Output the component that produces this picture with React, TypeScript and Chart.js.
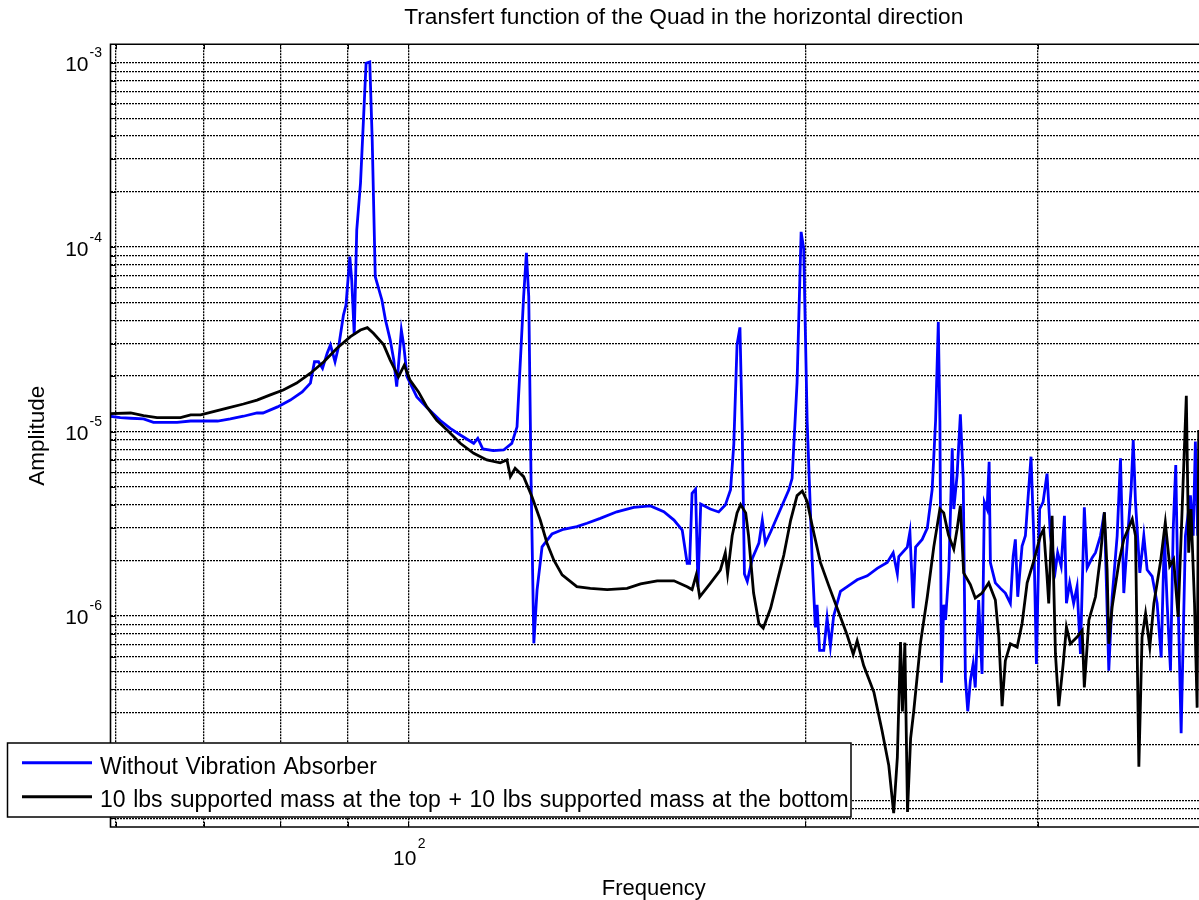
import React, { useEffect, useRef } from "react";
import { Chart, registerables } from "chart.js";

Chart.register(...registerables);

const FONT = '"Liberation Sans", Arial, Helvetica, sans-serif';

const titleText = "Transfert function of the Quad in the horizontal direction";
const xAxisTitle = "Frequency";
const yAxisTitle = "Amplitude";
const seriesNames = [
  "Without Vibration Absorber",
  "10 lbs supported mass at the top + 10 lbs supported mass at the bottom",
];
const seriesColors = ["#0000ff", "#000000"];

const xRange = [59.47, 397.5];
const yRange = [7.165e-8, 1.2585e-3];
const xGridValues = [60, 70, 80, 90, 100, 200, 300];
const yGridValues = [
  8e-8, 9e-8,
  1e-7, 2e-7, 3e-7, 4e-7, 5e-7, 6e-7, 7e-7, 8e-7, 9e-7,
  1e-6, 2e-6, 3e-6, 4e-6, 5e-6, 6e-6, 7e-6, 8e-6, 9e-6,
  1e-5, 2e-5, 3e-5, 4e-5, 5e-5, 6e-5, 7e-5, 8e-5, 9e-5,
  1e-4, 2e-4, 3e-4, 4e-4, 5e-4, 6e-4, 7e-4, 8e-4, 9e-4,
  1e-3,
];
const yLabelExponents = [-3, -4, -5, -6, -7];
const xLabelExponents = [2];

// Without Vibration Absorber
const blueFreq = [
  59.4, 60.5, 61.6, 63.0, 64.1, 66.8, 68.4, 69.9, 71.7, 73.3,
  75.0, 76.8, 77.6, 79.6, 81.4, 83.1, 84.3, 84.9, 85.5, 86.1,
  86.8, 87.3, 88.0, 88.6, 89.3, 89.7, 90.3, 90.6, 91.0, 91.4,
  92.0, 92.5, 92.9, 93.5, 93.9, 94.4, 95.5, 96.1, 96.9, 97.5,
  98.0, 98.8, 99.2, 99.8, 101.5, 103.3, 105.7, 107.6, 109.5, 112.1,
  112.9, 113.9, 116.0, 118.1, 119.8, 120.9, 121.4, 122.3, 122.9, 123.4,
  123.9, 124.5, 125.2, 126.3, 128.5, 131.1, 134.2, 136.6, 139.8, 143.9,
  148.2, 152.6, 156.2, 159.0, 161.3, 162.7, 163.4, 164.1, 165.1, 165.8,
  166.6, 169.4, 171.9, 173.9, 175.5, 176.5, 177.5, 178.4, 179.1, 179.8,
  180.7, 182.3, 184.4, 185.5, 186.5, 188.2, 191.5, 194.3, 195.4, 197.1,
  198.5, 199.4, 200.6, 202.4, 203.5, 204.1, 205.0, 206.5, 207.7, 208.9,
  210.1, 212.6, 215.7, 218.9, 222.8, 226.7, 230.7, 233.1, 234.8, 235.4,
  238.9, 240.0, 241.4, 242.4, 245.2, 247.4, 249.5, 251.0, 252.2, 252.9,
  253.6, 254.6, 255.4, 256.9, 258.4, 259.1, 260.6, 262.1, 263.4, 264.4,
  265.5, 266.7, 268.0, 269.0, 270.6, 272.2, 273.3, 274.6, 275.6, 276.2,
  278.6, 281.1, 283.5, 286.0, 287.4, 288.5, 289.7, 291.9, 293.6, 294.8,
  296.5, 297.9, 299.3, 301.0, 302.8, 304.9, 306.7, 309.4, 310.6, 312.5,
  314.3, 315.4, 317.2, 319.4, 321.3, 323.2, 325.4, 327.0, 329.9, 331.8,
  334.7, 337.0, 339.6, 341.6, 344.6, 346.6, 348.6, 351.0, 353.1, 354.4,
  355.8, 358.5, 361.0, 363.1, 366.3, 369.5, 372.1, 374.2, 376.0, 378.2,
  380.0, 381.7, 383.3, 385.3, 388.2, 391.6, 393.5, 395.0, 396.6, 398.5,
];
const blueAmp = [
  1.21e-5, 1.19e-5, 1.18e-5, 1.17e-5, 1.12e-5, 1.12e-5, 1.14e-5, 1.14e-5, 1.14e-5, 1.17e-5,
  1.21e-5, 1.26e-5, 1.26e-5, 1.36e-5, 1.48e-5, 1.64e-5, 1.83e-5, 2.39e-5, 2.39e-5, 2.2e-5,
  2.66e-5, 2.95e-5, 2.39e-5, 2.95e-5, 4.28e-5, 4.85e-5, 8.87e-5, 6.63e-5, 3.34e-5, 1.24e-4,
  2.22e-4, 5.1e-4, 9.93e-4, 1.01e-3, 3.81e-4, 6.91e-5, 5.17e-5, 4.02e-5, 3.13e-5, 2.44e-5,
  1.75e-5, 3.55e-5, 2.95e-5, 1.98e-5, 1.54e-5, 1.35e-5, 1.15e-5, 1.04e-5, 9.57e-6, 8.63e-6,
  9.19e-6, 8.04e-6, 7.87e-6, 7.94e-6, 8.63e-6, 1.06e-5, 1.9e-5, 5.38e-5, 9.32e-5, 5.38e-5,
  5.46e-6, 7.1e-7, 1.38e-6, 2.37e-6, 2.78e-6, 2.95e-6, 3.05e-6, 3.18e-6, 3.38e-6, 3.67e-6,
  3.88e-6, 3.95e-6, 3.67e-6, 3.31e-6, 2.92e-6, 1.93e-6, 1.93e-6, 4.62e-6, 4.86e-6, 1.44e-6,
  4.04e-6, 3.8e-6, 3.66e-6, 3.99e-6, 4.83e-6, 8.55e-6, 2.96e-5, 3.67e-5, 1.04e-5, 1.69e-6,
  1.54e-6, 2.05e-6, 2.48e-6, 3.3e-6, 2.48e-6, 2.85e-6, 3.8e-6, 4.83e-6, 5.57e-6, 1.84e-5,
  1.21e-4, 9.77e-5, 1.14e-5, 1.95e-6, 8.66e-7, 1.15e-6, 6.51e-7, 6.51e-7, 9.75e-7, 6.83e-7,
  1.0e-6, 1.36e-6, 1.46e-6, 1.57e-6, 1.65e-6, 1.81e-6, 1.95e-6, 2.2e-6, 1.69e-6, 2.1e-6,
  2.36e-6, 2.85e-6, 1.1e-6, 2.36e-6, 2.6e-6, 2.99e-6, 4.83e-6, 1.14e-5, 3.93e-5, 1.14e-5,
  4.34e-7, 1.15e-6, 9.5e-7, 1.78e-6, 8.11e-6, 3.8e-6, 5.79e-6, 1.24e-5, 5.55e-6, 4.63e-7,
  3.04e-7, 4.44e-7, 5.48e-7, 4.09e-7, 1.22e-6, 4.84e-7, 4.14e-6, 3.8e-6, 6.85e-6, 1.94e-6,
  1.51e-6, 1.41e-6, 1.33e-6, 1.17e-6, 2.11e-6, 2.6e-6, 1.27e-6, 2.39e-6, 2.72e-6, 4.14e-6,
  7.3e-6, 2.72e-6, 5.48e-7, 3.8e-6, 4.14e-6, 5.91e-6, 2.72e-6, 1.78e-6, 2.2e-6, 1.86e-6,
  3.49e-6, 1.17e-6, 1.51e-6, 1.17e-6, 1.44e-6, 6.22e-7, 3.88e-6, 1.82e-6, 2.07e-6, 2.2e-6,
  2.72e-6, 3.65e-6, 5.04e-7, 1.27e-6, 2.72e-6, 7.15e-6, 1.33e-6, 2.72e-6, 4.9e-6, 9.0e-6,
  4.14e-6, 1.71e-6, 2.72e-6, 1.78e-6, 1.64e-6, 1.17e-6, 5.96e-7, 2.72e-6, 1.17e-6, 5.04e-7,
  2.95e-6, 6.57e-6, 1.17e-6, 2.31e-7, 2.72e-6, 4.5e-6, 2.72e-6, 8.82e-6, 2.72e-6, 3.31e-6,
];

// 10 lbs supported mass at the top + 10 lbs supported mass at the bottom
const blackFreq = [
  59.4, 61.6, 63.0, 64.5, 67.2, 68.4, 69.6, 70.8, 72.9, 75.0,
  76.8, 78.6, 80.4, 82.3, 84.3, 86.3, 88.3, 90.4, 92.0, 93.1,
  94.1, 95.8, 96.9, 98.3, 99.3, 100.3, 101.8, 103.3, 105.1, 107.0,
  109.5, 112.1, 114.7, 117.4, 118.8, 119.5, 120.5, 122.3, 124.1, 125.9,
  127.4, 128.9, 130.8, 134.2, 137.4, 141.5, 146.5, 150.0, 154.4, 159.0,
  162.7, 164.1, 165.3, 166.3, 169.4, 172.4, 173.9, 174.6, 176.0, 177.5,
  178.6, 180.2, 181.1, 182.7, 184.4, 185.8, 188.2, 190.4, 192.6, 194.9,
  197.1, 198.9, 200.6, 202.4, 205.3, 208.3, 211.4, 215.1, 217.4, 218.9,
  221.4, 225.4, 228.6, 231.3, 233.3, 234.8, 236.1, 236.9, 237.9, 239.0,
  240.3, 241.6, 244.5, 247.4, 250.2, 252.9, 254.6, 256.7, 259.1, 260.6,
  262.1, 263.6, 266.7, 269.0, 272.2, 275.4, 278.6, 280.3, 281.9, 283.5,
  286.0, 289.4, 291.9, 294.5, 297.9, 301.4, 303.1, 304.9, 305.8, 307.6,
  309.4, 311.2, 313.6, 315.4, 317.6, 321.3, 324.2, 325.4, 328.0, 331.8,
  334.7, 337.0, 338.6, 339.6, 341.6, 345.6, 348.6, 353.8, 355.8, 357.9,
  359.9, 362.1, 364.8, 367.4, 371.6, 374.8, 377.7, 380.3, 383.3, 385.9,
  388.8, 390.4, 392.0, 394.4, 396.2, 397.3,
];
const blackAmp = [
  1.25e-5, 1.26e-5, 1.22e-5, 1.19e-5, 1.19e-5, 1.23e-5, 1.23e-5, 1.27e-5, 1.34e-5, 1.41e-5,
  1.48e-5, 1.58e-5, 1.68e-5, 1.83e-5, 2.07e-5, 2.39e-5, 2.83e-5, 3.27e-5, 3.55e-5, 3.66e-5,
  3.41e-5, 2.95e-5, 2.44e-5, 1.98e-5, 2.29e-5, 1.9e-5, 1.64e-5, 1.36e-5, 1.15e-5, 1.02e-5,
  8.63e-6, 7.62e-6, 7.01e-6, 6.77e-6, 7.01e-6, 5.69e-6, 6.32e-6, 5.69e-6, 4.43e-6, 3.31e-6,
  2.48e-6, 2.01e-6, 1.67e-6, 1.44e-6, 1.41e-6, 1.39e-6, 1.41e-6, 1.49e-6, 1.55e-6, 1.55e-6,
  1.44e-6, 1.39e-6, 1.67e-6, 1.27e-6, 1.5e-6, 1.77e-6, 2.2e-6, 1.69e-6, 2.72e-6, 3.62e-6,
  4.02e-6, 3.62e-6, 2.72e-6, 1.33e-6, 9.09e-7, 8.58e-7, 1.1e-6, 1.54e-6, 2.14e-6, 3.3e-6,
  4.49e-6, 4.76e-6, 4.18e-6, 3.07e-6, 1.95e-6, 1.46e-6, 1.1e-6, 7.88e-7, 6.2e-7, 7.33e-7,
  5.38e-7, 3.85e-7, 2.39e-7, 1.55e-7, 8.53e-8, 1.71e-7, 7.22e-7, 3.03e-7, 7.16e-7, 8.64e-8,
  2.17e-7, 3.03e-7, 7.16e-7, 1.27e-6, 2.36e-6, 3.8e-6, 3.62e-6, 2.75e-6, 2.3e-6, 2.95e-6,
  3.96e-6, 1.71e-6, 1.48e-6, 1.25e-6, 1.33e-6, 1.51e-6, 1.22e-6, 7.68e-7, 3.24e-7, 5.72e-7,
  7.06e-7, 6.77e-7, 9.09e-7, 1.51e-6, 1.98e-6, 2.72e-6, 2.95e-6, 1.64e-6, 1.17e-6, 3.49e-6,
  6.22e-7, 3.24e-7, 5.48e-7, 8.71e-7, 7.06e-7, 7.68e-7, 8.35e-7, 4.09e-7, 9.48e-7, 1.27e-6,
  2.11e-6, 3.65e-6, 1.78e-6, 7.06e-7, 1.12e-6, 1.94e-6, 2.6e-6, 3.35e-6, 2.72e-6, 1.52e-7,
  7.68e-7, 1.03e-6, 6.77e-7, 1.17e-6, 1.94e-6, 3.21e-6, 1.86e-6, 2.02e-6, 9.89e-7, 3.65e-6,
  1.56e-5, 2.2e-6, 3.8e-6, 1.17e-6, 3.18e-7, 1.02e-5,
];

function toPoints(xs: number[], ys: number[]) {
  const n = Math.min(xs.length, ys.length);
  const pts: { x: number; y: number }[] = [];
  for (let i = 0; i < n; i++) pts.push({ x: xs[i], y: ys[i] });
  return pts;
}

const decorPlugin = {
  id: "matlabDecor",
  afterDraw(chart: any) {
    const ctx: CanvasRenderingContext2D = chart.ctx;
    const { left, right, top, bottom } = chart.chartArea;
    const xs = chart.scales.x;
    const ys = chart.scales.y;
    ctx.save();
    ctx.setLineDash([]);

    // inner tick marks
    ctx.strokeStyle = "#000";
    ctx.lineWidth = 1;
    ctx.beginPath();
    for (const v of yGridValues) {
      const py = Math.round(ys.getPixelForValue(v)) + 0.5;
      ctx.moveTo(left, py);
      ctx.lineTo(left + 5, py);
    }
    for (const v of xGridValues) {
      const px = Math.round(xs.getPixelForValue(v)) + 0.5;
      ctx.moveTo(px, top);
      ctx.lineTo(px, top + 5);
      ctx.moveTo(px, bottom);
      ctx.lineTo(px, bottom - 5);
    }
    ctx.stroke();

    // axes box (left, top, bottom)
    ctx.lineWidth = 1.6;
    ctx.beginPath();
    ctx.moveTo(right + 5, top);
    ctx.lineTo(left, top);
    ctx.lineTo(left, bottom);
    ctx.lineTo(right + 5, bottom);
    ctx.stroke();

    ctx.fillStyle = "#000";
    ctx.textBaseline = "alphabetic";

    // y tick labels 10^k
    for (const e of yLabelExponents) {
      const py = ys.getPixelForValue(Math.pow(10, e));
      if (py < top - 2 || py > bottom + 2) continue;
      ctx.font = `21px ${FONT}`;
      ctx.textAlign = "right";
      ctx.fillText("10", left - 22, py + 8.5);
      ctx.font = `14px ${FONT}`;
      ctx.textAlign = "left";
      ctx.fillText(String(e), left - 21, py - 5.5);
    }

    // x tick labels 10^k
    for (const e of xLabelExponents) {
      const px = xs.getPixelForValue(Math.pow(10, e));
      ctx.font = `21px ${FONT}`;
      ctx.textAlign = "center";
      ctx.fillText("10", px - 3.5, bottom + 38);
      ctx.font = `14px ${FONT}`;
      ctx.textAlign = "left";
      ctx.fillText(String(e), px + 9.5, bottom + 21);
    }

    // title
    ctx.font = `22.7px ${FONT}`;
    ctx.textAlign = "center";
    ctx.fillText(titleText, 683.8, 24);

    // x axis title
    ctx.font = `22px ${FONT}`;
    ctx.fillText(xAxisTitle, 653.7, 895);

    // y axis title
    ctx.save();
    ctx.translate(44, (top + bottom) / 2);
    ctx.rotate(-Math.PI / 2);
    ctx.font = `22.5px ${FONT}`;
    ctx.textAlign = "center";
    ctx.fillText(yAxisTitle, 0, 0);
    ctx.restore();

    // legend
    const lx = 7.5, ly = 743, lw = 843.5, lh = 74;
    ctx.fillStyle = "#fff";
    ctx.fillRect(lx, ly, lw, lh);
    ctx.strokeStyle = "#000";
    ctx.lineWidth = 1.5;
    ctx.strokeRect(lx, ly, lw, lh);
    const rowsY = [762.7, 796.7];
    const baseY = [773.8, 807.2];
    for (let i = 0; i < seriesNames.length; i++) {
      ctx.strokeStyle = seriesColors[i];
      ctx.lineWidth = 3;
      ctx.beginPath();
      ctx.moveTo(22, rowsY[i]);
      ctx.lineTo(92, rowsY[i]);
      ctx.stroke();
      ctx.fillStyle = "#000";
      ctx.font = `23px ${FONT}`;
      ctx.textAlign = "left";
      (ctx as any).wordSpacing = "1.2px";
      ctx.fillText(seriesNames[i], 100, baseY[i]);
      (ctx as any).wordSpacing = "0px";
    }
    ctx.restore();
  },
};

export default function App() {
  const canvasRef = useRef<HTMLCanvasElement | null>(null);

  useEffect(() => {
    document.body.style.margin = "0";
    document.body.style.overflow = "hidden";
    const canvas = canvasRef.current;
    if (!canvas) return;

    const gridOpts = {
      color: "#000000",
      lineWidth: 1.3,
      drawTicks: false,
    };

    const chart = new Chart(canvas, {
      type: "scatter",
      data: {
        datasets: [
          {
            label: seriesNames[1],
            data: toPoints(blackFreq, blackAmp),
            borderColor: seriesColors[1],
            backgroundColor: seriesColors[1],
            borderWidth: 2.8,
            showLine: true,
            pointRadius: 0,
            pointHoverRadius: 0,
            tension: 0,
            order: 0,
          },
          {
            label: seriesNames[0],
            data: toPoints(blueFreq, blueAmp),
            borderColor: seriesColors[0],
            backgroundColor: seriesColors[0],
            borderWidth: 2.8,
            showLine: true,
            pointRadius: 0,
            pointHoverRadius: 0,
            tension: 0,
            order: 1,
          },
        ],
      },
      options: {
        animation: false,
        responsive: false,
        devicePixelRatio: 1,
        events: [],
        layout: { padding: { left: 110.5, right: 0, top: 44.3, bottom: 73 } },
        plugins: {
          legend: { display: false },
          title: { display: false },
          tooltip: { enabled: false },
        },
        scales: {
          x: {
            type: "logarithmic",
            min: xRange[0],
            max: xRange[1],
            bounds: "data",
            afterBuildTicks: (s: any) => {
              s.ticks = xGridValues.map((v) => ({ value: v }));
            },
            ticks: { display: false },
            grid: gridOpts,
            border: { display: false, dash: [2, 1] },
            title: { display: false },
          },
          y: {
            type: "logarithmic",
            min: yRange[0],
            max: yRange[1],
            bounds: "data",
            afterBuildTicks: (s: any) => {
              s.ticks = yGridValues.map((v) => ({ value: v }));
            },
            ticks: { display: false },
            grid: gridOpts,
            border: { display: false, dash: [2, 1] },
            title: { display: false },
          },
        },
      } as any,
      plugins: [decorPlugin],
    } as any);

    return () => {
      chart.destroy();
    };
  }, []);

  return (
    <div style={{ width: 1199, height: 900, background: "#fff" }}>
      <canvas ref={canvasRef} width={1199} height={900} style={{ display: "block" }} />
    </div>
  );
}
